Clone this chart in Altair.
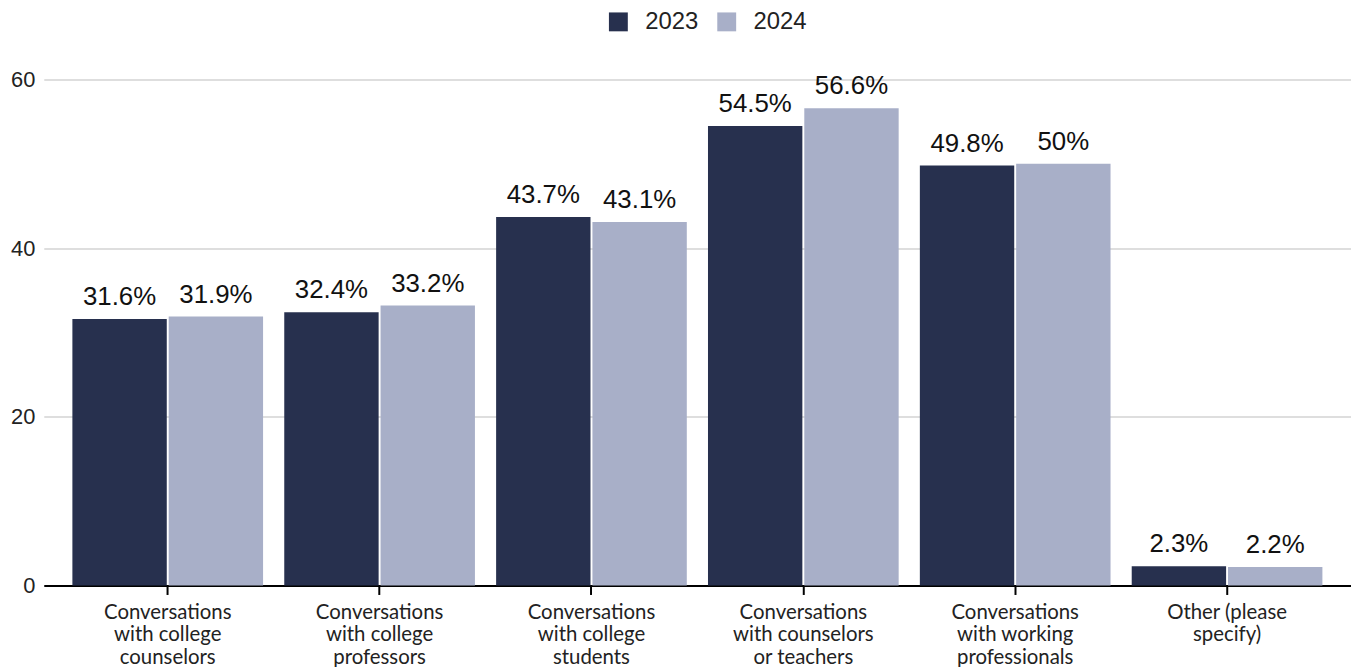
import altair as alt
import pandas as pd

categories = [
    "Conversations|with college|counselors",
    "Conversations|with college|professors",
    "Conversations|with college|students",
    "Conversations|with counselors|or teachers",
    "Conversations|with working|professionals",
    "Other (please|specify)",
]
years = ["2023", "2024"]
values_2023 = [31.6, 32.4, 43.7, 54.5, 49.8, 2.3]
values_2024 = [31.9, 33.2, 43.1, 56.6, 50.0, 2.2]
y_ticks = [0, 20, 40, 60]
colors = ["#27304e", "#a8afc8"]

rows = []
for c, v in zip(categories, values_2023):
    rows.append({"category": c, "year": "2023", "value": v})
for c, v in zip(categories, values_2024):
    rows.append({"category": c, "year": "2024", "value": v})
df = pd.DataFrame(rows)

base = alt.Chart(df).encode(
    x=alt.X(
        "category:N",
        sort=categories,
        title=None,
        scale=alt.Scale(paddingInner=0.1, paddingOuter=0.135),
        axis=alt.Axis(
            labelAngle=0,
            labelExpr="split(datum.label, '|')",
            labelFont="Lato",
            labelFontSize=20.5,
            labelLineHeight=22.5,
            labelColor="#222222",
            labelPadding=8,
            domainColor="#000000",
            domainWidth=2,
            tickColor="#000000",
            tickWidth=2,
            tickSize=9,
            labelBaseline="top",
        ),
    ),
    xOffset=alt.XOffset("year:N", sort=years, scale=alt.Scale(paddingInner=0.02)),
)

bars = base.mark_bar().encode(
    y=alt.Y(
        "value:Q",
        title=None,
        scale=alt.Scale(domain=[0, 60], nice=False),
        axis=alt.Axis(
            values=y_ticks,
            title=None,
            labelFont="Liberation Sans",
            labelFontSize=22,
            labelColor="#222222",
            labelPadding=9,
            domain=False,
            ticks=False,
            grid=True,
            gridColor="#dedede",
            gridWidth=2,
        ),
    ),
    color=alt.Color(
        "year:N",
        sort=years,
        scale=alt.Scale(domain=years, range=colors),
        legend=alt.Legend(
            title=None,
            orient="none",
            direction="horizontal",
            legendX=566,
            legendY=-70,
            symbolType="square",
            symbolSize=361,
            symbolStrokeWidth=0,
            symbolOpacity=1,
            labelFont="Liberation Sans",
            labelFontSize=24,
            labelColor="#222222",
            labelOffset=15,
            columnPadding=16,
        ),
    ),
)

labels = base.mark_text(
    font="Liberation Sans", fontSize=26, baseline="bottom", dy=-9, color="#111111"
).encode(
    y=alt.Y("value:Q"),
    text=alt.Text("label:N"),
).transform_calculate(label="datum.value + '%'")

chart = (
    alt.layer(bars, labels)
    .properties(
        width=1315,
        height=509,
        padding={"left": 36, "top": 70, "right": 0, "bottom": 80},
        autosize=alt.AutoSizeParams(type="none"),
        background="white",
    )
    .configure_view(stroke=None)
)

chart.save("out.html", embed_options={"renderer": "svg", "actions": False})
